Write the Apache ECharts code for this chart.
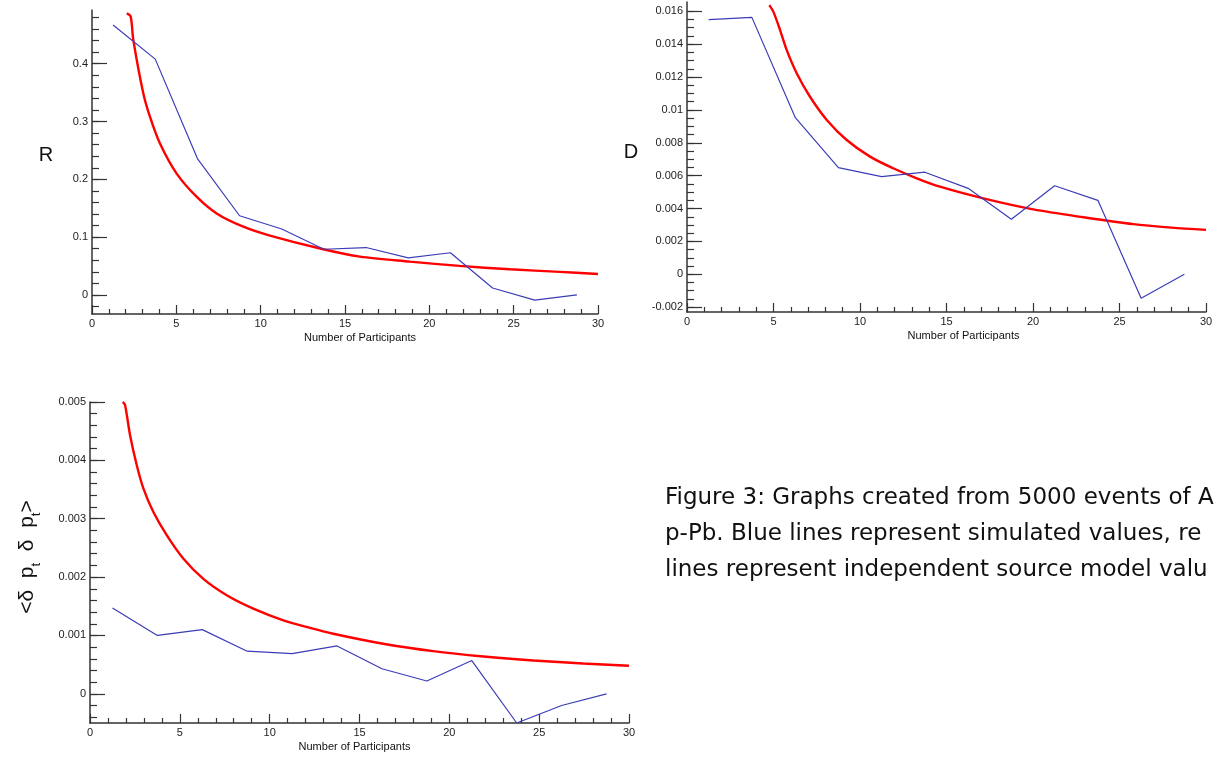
<!DOCTYPE html>
<html>
<head>
<meta charset="utf-8">
<script src="https://cdn.jsdelivr.net/npm/echarts@6/dist/echarts.min.js"></script>
<style>
  html, body { margin: 0; padding: 0; background: #fff; }
  #chart { width: 1218px; height: 759px; }
</style>
</head>
<body>
<div id="chart"></div>
<script>
// participant bins for the simulated (blue) series
const simX = [1.25, 3.75, 6.25, 8.75, 11.25, 13.75, 16.25, 18.75, 21.25, 23.75, 26.25, 28.75]
const rSim = [0.467, 0.408, 0.236, 0.137, 0.114, 0.079, 0.082, 0.064, 0.073, 0.012, -0.009, 0.0]
const dSim = [0.01549, 0.01563, 0.00955, 0.00649, 0.00594, 0.00621, 0.00523, 0.00335, 0.00539, 0.0045, -0.00146, 0.0]
const ptSim = [0.00147, 0.001, 0.0011, 0.00073, 0.00069, 0.00082, 0.00043, 0.00022, 0.00057, -0.0005, -0.0002, 0.0]

// independent source model (red)
const rModelX = [2.06, 2.29, 2.45, 3.04, 3.44, 4.03, 5.02, 6.2, 7.39, 8.97, 10.55, 13.71, 15.89, 18.85, 21.8, 24.78, 27.74, 30]
const rModel = [0.487, 0.482, 0.441, 0.349, 0.308, 0.262, 0.21, 0.17, 0.141, 0.118, 0.1026, 0.079, 0.0663, 0.0577, 0.0502, 0.0444, 0.0398, 0.0363]
const dModelX = [4.76, 4.99, 5.38, 5.76, 6.34, 7.11, 8.08, 9.23, 10.58, 11.92, 13.28, 14.62, 17.13, 20.02, 22.91, 25.8, 28, 30]
const dModel = [0.01638, 0.01598, 0.01486, 0.01365, 0.01223, 0.0108, 0.00939, 0.00817, 0.00716, 0.00645, 0.00584, 0.00533, 0.00462, 0.00395, 0.00347, 0.00305, 0.00284, 0.0027]
const ptModelX = [1.82, 1.95, 2.23, 2.6, 2.97, 3.52, 4.27, 5.19, 6.31, 7.61, 9.09, 10.76, 12.24, 13.54, 16.32, 19.1, 21.89, 24.67, 27.45, 30]
const ptModel = [0.005, 0.00495, 0.00443, 0.00392, 0.00352, 0.00312, 0.00272, 0.00232, 0.00197, 0.00169, 0.00146, 0.00126, 0.00113, 0.00103, 0.000858, 0.000731, 0.00064, 0.000571, 0.00052, 0.00048]

// tick labels
const rTicks = [0, 0.1, 0.2, 0.3, 0.4]
const dTicks = [-0.002, 0, 0.002, 0.004, 0.006, 0.008, 0.01, 0.012, 0.014, 0.016]
const ptTicks = [0, 0.001, 0.002, 0.003, 0.004, 0.005]

const captionLines = [
  'Figure 3: Graphs created from 5000 events of A',
  'p-Pb. Blue lines represent simulated values, re',
  'lines represent independent source model valu',
]

const FONT = '"Liberation Sans", Arial, Helvetica, sans-serif'
const AXIS = '#333'
const BLUE = '#3c3cb8'
const RED = '#ff0000'

function steps(from, to, step) {
  const out = []
  for (let v = from; v <= to + step / 2; v += step) out.push(+v.toFixed(6))
  return out
}

const pairs = (xs, ys) => xs.map((x, i) => [x, ys[i]])

const grids = [
  { left: 92, top: 10, width: 506, height: 304 },
  { left: 687, top: 2, width: 519, height: 310 },
  { left: 90, top: 402, width: 539, height: 321 },
]

const yRanges = [
  { min: -0.033, max: 0.493, ticks: rTicks, minor: steps(-0.02, 0.48, 0.02) },
  { min: -0.002294, max: 0.016566, ticks: dTicks, minor: steps(-0.002, 0.016, 0.0005) },
  { min: -0.0005, max: 0.005, ticks: ptTicks, minor: steps(-0.0004, 0.005, 0.0002) },
]

const namePads = [[0, 0, 0, 30], [0, 0, 0, 34], [0, 10, 0, 0]]

const xAxes = grids.map((_, i) => ({
  type: 'value',
  gridIndex: i,
  position: 'bottom',
  min: 0,
  max: 30,
  interval: 5,
  name: 'Number of Participants',
  nameLocation: 'middle',
  nameGap: 18,
  nameTextStyle: { color: '#111', fontSize: 11, fontFamily: FONT, padding: namePads[i] },
  axisLine: { onZero: false, lineStyle: { color: AXIS, width: 1.5 } },
  axisTick: { inside: true, length: 9, lineStyle: { color: AXIS, width: 1.2 } },
  minorTick: { show: true, splitNumber: 5, length: 5, lineStyle: { color: AXIS, width: 1.2 } },
  axisLabel: { color: '#222', fontSize: 11, fontFamily: FONT, margin: 4 },
  splitLine: { show: false },
}))

const yMain = yRanges.map((r, i) => ({
  type: 'value',
  gridIndex: i,
  position: 'left',
  min: r.min,
  max: r.max,
  axisLine: { onZero: false, lineStyle: { color: AXIS, width: 1.5 } },
  axisTick: { inside: true, length: 15, customValues: r.ticks, lineStyle: { color: AXIS, width: 1.2 } },
  axisLabel: { color: '#222', fontSize: 11, fontFamily: FONT, margin: 4, customValues: r.ticks },
  splitLine: { show: false },
}))

const yMinor = yRanges.map((r, i) => ({
  type: 'value',
  gridIndex: i,
  position: 'left',
  offset: 0,
  min: r.min,
  max: r.max,
  axisLine: { show: false, onZero: false },
  axisTick: { show: true, inside: true, length: 7, customValues: r.minor, lineStyle: { color: AXIS, width: 1.2 } },
  axisLabel: { show: false },
  splitLine: { show: false },
}))

function simSeries(i, ys) {
  return {
    type: 'line', xAxisIndex: i, yAxisIndex: i, data: pairs(simX, ys),
    showSymbol: false, lineStyle: { color: BLUE, width: 1.2 }, z: 3, silent: true,
  }
}
function modelSeries(i, xs, ys) {
  return {
    type: 'line', xAxisIndex: i, yAxisIndex: i, data: pairs(xs, ys),
    smooth: 0.3, showSymbol: false, lineStyle: { color: RED, width: 2.4 }, z: 2, silent: true,
  }
}

const chart = echarts.init(document.getElementById('chart'))
chart.setOption({
  backgroundColor: '#fff',
  animation: false,
  grid: grids,
  xAxis: xAxes,
  yAxis: yMain.concat(yMinor),
  series: [
    modelSeries(0, rModelX, rModel),
    simSeries(0, rSim),
    modelSeries(1, dModelX, dModel),
    simSeries(1, dSim),
    modelSeries(2, ptModelX, ptModel),
    simSeries(2, ptSim),
  ],
  graphic: [
    { type: 'text', x: 46, y: 155, style: { text: 'R', fontSize: 20, fontFamily: FONT, fill: '#111', align: 'center', verticalAlign: 'middle' } },
    { type: 'text', x: 631, y: 152, style: { text: 'D', fontSize: 20, fontFamily: FONT, fill: '#111', align: 'center', verticalAlign: 'middle' } },
    {
      type: 'text', x: 27, y: 557, rotation: Math.PI / 2,
      style: {
        text: '{m|<δ  p}{s|t}{m|  δ  p}{s|t}{m|>}',
        align: 'center', verticalAlign: 'middle', fill: '#111',
        rich: {
          m: { fontSize: 21, fontFamily: FONT, lineHeight: 32, verticalAlign: 'middle', fill: '#111' },
          s: { fontSize: 13, fontFamily: FONT, lineHeight: 32, verticalAlign: 'bottom', fill: '#111' },
        },
      },
    },
    ...captionLines.map((t, i) => ({
      type: 'text', left: 665, top: 487 + i * 36,
      style: { text: t, fontSize: 23, fontFamily: '"DejaVu Sans", ' + FONT, fill: '#111' },
    })),
  ],
})
</script>
</body>
</html>
